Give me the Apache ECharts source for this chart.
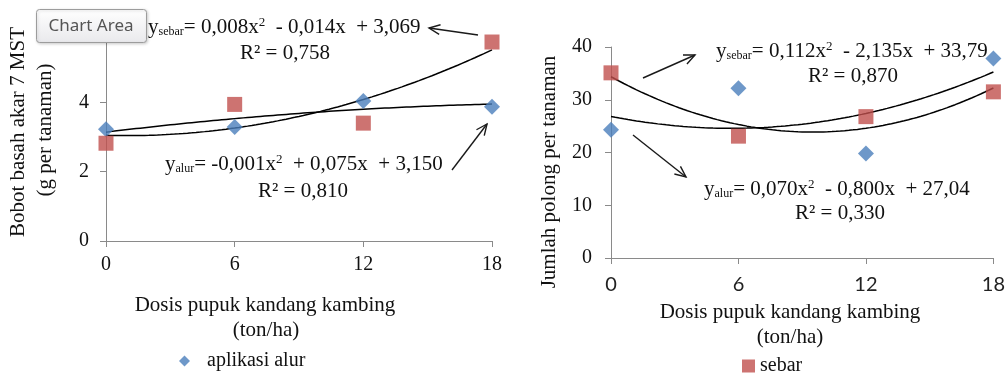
<!DOCTYPE html>
<html>
<head>
<meta charset="utf-8">
<script src="https://cdn.jsdelivr.net/npm/echarts@6/dist/echarts.min.js"></script>
<style>
  html, body { margin: 0; padding: 0; background: #ffffff; }
  #chart { width: 1008px; height: 376px; }
</style>
</head>
<body>
<div id="chart"></div>
<script>
// Goat-manure dose (ton/ha) on both panels
const doses = [0, 6, 12, 18];
const doseTicks = [0, 6, 12, 18];

// Left panel: root fresh weight at 7 MST (g per plant)
const rootTicks = [0, 2, 4, 6];
const rootAlur = [3.22, 3.29, 4.04, 3.87];
const rootSebar = [2.82, 3.94, 3.40, 5.74];

// Right panel: pods per plant
const podTicks = [0, 10, 20, 30, 40];
const podsAlur = [24.3, 32.2, 19.8, 37.8];
const podsSebar = [35.1, 23.1, 26.8, 31.5];

// Trendline labels
const eqRootSebar = ['sebar', '= 0,008x', '  - 0,014x  + 3,069', 'R² = 0,758'];
const eqRootAlur = ['alur', '= -0,001x', '  + 0,075x  + 3,150', 'R² = 0,810'];
const eqPodsSebar = ['sebar', '= 0,112x', '  - 2,135x  + 33,79', 'R² = 0,870'];
const eqPodsAlur = ['alur', '= 0,070x', '  - 0,800x  + 27,04', 'R² = 0,330'];

const SERIF = '"Liberation Serif", "DejaVu Serif", serif';
const INK = '#111111';
const AXIS = '#8a8a8a';
const BLUE = '#4A7EBB';
const RED = '#C0504D';

// Least-squares quadratic (Excel polynomial trendline, order 2)
function quadFit(xs, ys) {
  const S = [0, 0, 0, 0, 0], T = [0, 0, 0];
  xs.forEach((x, i) => {
    for (let k = 0; k < 5; k++) S[k] += Math.pow(x, k);
    for (let k = 0; k < 3; k++) T[k] += ys[i] * Math.pow(x, k);
  });
  const M = [[S[0], S[1], S[2], T[0]], [S[1], S[2], S[3], T[1]], [S[2], S[3], S[4], T[2]]];
  for (let c = 0; c < 3; c++) {
    let p = c;
    for (let r = c + 1; r < 3; r++) if (Math.abs(M[r][c]) > Math.abs(M[p][c])) p = r;
    [M[c], M[p]] = [M[p], M[c]];
    for (let r = 0; r < 3; r++) {
      if (r === c) continue;
      const f = M[r][c] / M[c][c];
      for (let k = c; k < 4; k++) M[r][k] -= f * M[c][k];
    }
  }
  return [M[0][3] / M[0][0], M[1][3] / M[1][1], M[2][3] / M[2][2]];
}
function trendPoints(xs, ys) {
  const [a, b, c] = quadFit(xs, ys);
  const lo = xs[0], hi = xs[xs.length - 1], n = 90, pts = [];
  for (let i = 0; i <= n; i++) {
    const x = lo + (hi - lo) * i / n;
    pts.push([x, a + b * x + c * x * x]);
  }
  return pts;
}
const pairs = (xs, ys) => xs.map((x, i) => [x, ys[i]]);

function valueAxis(ticks, extra) {
  return Object.assign({
    type: 'value',
    min: ticks[0],
    max: ticks[ticks.length - 1],
    interval: ticks[1] - ticks[0],
    splitLine: { show: false },
    axisLine: { show: true, lineStyle: { color: AXIS, width: 1 } },
    axisTick: { show: true, length: 6, lineStyle: { color: AXIS } },
  }, extra);
}
function innerTicks(ticks, gridIndex) {
  return valueAxis(ticks, {
    gridIndex,
    axisLine: { show: false },
    axisLabel: { show: false },
    axisTick: { show: true, inside: true, length: 6, lineStyle: { color: AXIS } },
  });
}

// Rich-text regression label: y with subscript, x² superscript
function equation(x, y, parts) {
  return {
    type: 'text', x, y,
    style: {
      text: '{m|y}{s|' + parts[0] + '}{m|' + parts[1] + '}{p|2}{m|' + parts[2] + '}',
      align: 'left', verticalAlign: 'middle',
      rich: {
        m: { fontFamily: SERIF, fontSize: 21, fill: INK, verticalAlign: 'bottom' },
        s: { fontFamily: SERIF, fontSize: 12, fill: INK, verticalAlign: 'bottom' },
        p: { fontFamily: SERIF, fontSize: 13, fill: INK, verticalAlign: 'top' }
      }
    }
  };
}
function plainText(x, y, text, extra) {
  return Object.assign({
    type: 'text', x, y,
    style: { text, fontFamily: SERIF, fontSize: 21, fill: INK, align: 'center', verticalAlign: 'middle' }
  }, extra || {});
}
// Thin annotation arrow with an open head at (x2, y2)
function arrow(x1, y1, x2, y2) {
  const ang = Math.atan2(y1 - y2, x1 - x2), L = 12, w = 0.42;
  const h1 = [x2 + L * Math.cos(ang + w), y2 + L * Math.sin(ang + w)];
  const h2 = [x2 + L * Math.cos(ang - w), y2 + L * Math.sin(ang - w)];
  const ls = { stroke: '#1a1a1a', lineWidth: 1.4, fill: null };
  return [
    { type: 'polyline', shape: { points: [[x1, y1], [x2, y2]] }, style: ls },
    { type: 'polyline', shape: { points: [h1, [x2, y2], h2] }, style: ls }
  ];
}

const chart = echarts.init(document.getElementById('chart'), null, { renderer: 'canvas' });

const option = {
  backgroundColor: '#ffffff',
  animation: false,
  grid: [
    { left: 106, right: 516, top: 33, bottom: 135 },
    { left: 611, right: 12, top: 47, bottom: 118 }
  ],
  xAxis: [
    valueAxis(doseTicks, {
      gridIndex: 0,
      axisLabel: { fontFamily: SERIF, fontSize: 20, color: INK, margin: 14 }
    }),
    innerTicks(doseTicks, 0),
    valueAxis(doseTicks, {
      gridIndex: 1,
      axisLabel: { fontFamily: 'Lato, "Open Sans", sans-serif', fontSize: 20, color: '#222', margin: 17 }
    })
  ],
  yAxis: [
    valueAxis(rootTicks, {
      gridIndex: 0,
      axisLabel: { fontFamily: SERIF, fontSize: 20, color: INK, margin: 17 }
    }),
    innerTicks(rootTicks, 0),
    valueAxis(podTicks, {
      gridIndex: 1,
      axisLabel: { fontFamily: SERIF, fontSize: 20, color: INK, margin: 19 }
    })
  ],
  legend: [
    {
      data: ['aplikasi alur'], left: 179, top: 351, padding: 0,
      icon: 'diamond', itemWidth: 11, itemHeight: 11,
      textStyle: { fontFamily: SERIF, fontSize: 20, color: INK, padding: [0, 0, 0, 12] },
      selectedMode: false
    },
    {
      data: ['sebar'], left: 742, top: 356, padding: 0,
      icon: 'rect', itemWidth: 13, itemHeight: 13,
      textStyle: { fontFamily: SERIF, fontSize: 20, color: INK },
      selectedMode: false
    }
  ],
  series: [
    {
      name: 'tren alur', type: 'line', xAxisIndex: 0, yAxisIndex: 0,
      data: trendPoints(doses, rootAlur), showSymbol: false, z: 3,
      lineStyle: { color: '#000', width: 1.5 }
    },
    {
      name: 'tren sebar', type: 'line', xAxisIndex: 0, yAxisIndex: 0,
      data: trendPoints(doses, rootSebar), showSymbol: false, z: 3,
      lineStyle: { color: '#000', width: 1.5 }
    },
    {
      name: 'aplikasi alur', type: 'scatter', xAxisIndex: 0, yAxisIndex: 0,
      data: pairs(doses, rootAlur), symbol: 'diamond', symbolSize: 16,
      itemStyle: { color: BLUE }, z: 4, clip: false
    },
    {
      name: 'sebar', type: 'scatter', xAxisIndex: 0, yAxisIndex: 0,
      data: pairs(doses, rootSebar), symbol: 'rect', symbolSize: 15,
      itemStyle: { color: RED }, z: 4, clip: false
    },
    {
      name: 'tren alur', type: 'line', xAxisIndex: 2, yAxisIndex: 2,
      data: trendPoints(doses, podsAlur), showSymbol: false, z: 3,
      lineStyle: { color: '#000', width: 1.5 }
    },
    {
      name: 'tren sebar', type: 'line', xAxisIndex: 2, yAxisIndex: 2,
      data: trendPoints(doses, podsSebar), showSymbol: false, z: 3,
      lineStyle: { color: '#000', width: 1.5 }
    },
    {
      name: 'aplikasi alur', type: 'scatter', xAxisIndex: 2, yAxisIndex: 2,
      data: pairs(doses, podsAlur), symbol: 'diamond', symbolSize: 16,
      itemStyle: { color: BLUE }, z: 4, clip: false
    },
    {
      name: 'sebar', type: 'scatter', xAxisIndex: 2, yAxisIndex: 2,
      data: pairs(doses, podsSebar), symbol: 'rect', symbolSize: 15,
      itemStyle: { color: RED }, z: 4, clip: false
    }
  ],
  graphic: [
    // axis titles
    plainText(18, 132, 'Bobot basah akar 7 MST', { rotation: Math.PI / 2 }),
    plainText(45, 130, '(g per tanaman)', { rotation: Math.PI / 2 }),
    plainText(265, 305, 'Dosis pupuk kandang kambing'),
    plainText(266, 330, '(ton/ha)'),
    plainText(549, 172, 'Jumlah polong per tanaman', { rotation: Math.PI / 2 }),
    plainText(790, 312, 'Dosis pupuk kandang kambing'),
    plainText(790, 337, '(ton/ha)'),
    // regression labels, left panel
    equation(148, 27, eqRootSebar),
    plainText(285, 53, eqRootSebar[3]),
    equation(165, 164, eqRootAlur),
    plainText(303, 191, eqRootAlur[3]),
    // regression labels, right panel
    equation(716, 51, eqPodsSebar),
    plainText(853, 76, eqPodsSebar[3]),
    equation(704, 189, eqPodsAlur),
    plainText(840, 213, eqPodsAlur[3]),
    // arrows
    ...arrow(478, 35, 429, 28),
    ...arrow(452, 170, 487, 124),
    ...arrow(643, 78, 695, 55),
    ...arrow(633, 135, 686, 177),
    // Excel "Chart Area" hover tip
    {
      type: 'rect', z: 100,
      shape: { x: 36.5, y: 9.5, width: 110, height: 33, r: 3 },
      style: {
        fill: new echarts.graphic.LinearGradient(0, 0, 0, 1, [
          { offset: 0, color: '#ffffff' }, { offset: 1, color: '#e9e9ec' }
        ]),
        stroke: '#9c9c9c', lineWidth: 1,
        shadowColor: 'rgba(0,0,0,0.18)', shadowBlur: 3, shadowOffsetX: 1, shadowOffsetY: 1
      }
    },
    {
      type: 'text', z: 101, x: 91, y: 26,
      style: {
        text: 'Chart Area', fontFamily: '"Noto Sans", "Open Sans", sans-serif', fontSize: 17,
        fill: '#555555', align: 'center', verticalAlign: 'middle'
      }
    }
  ]
};

chart.setOption(option);
</script>
</body>
</html>
